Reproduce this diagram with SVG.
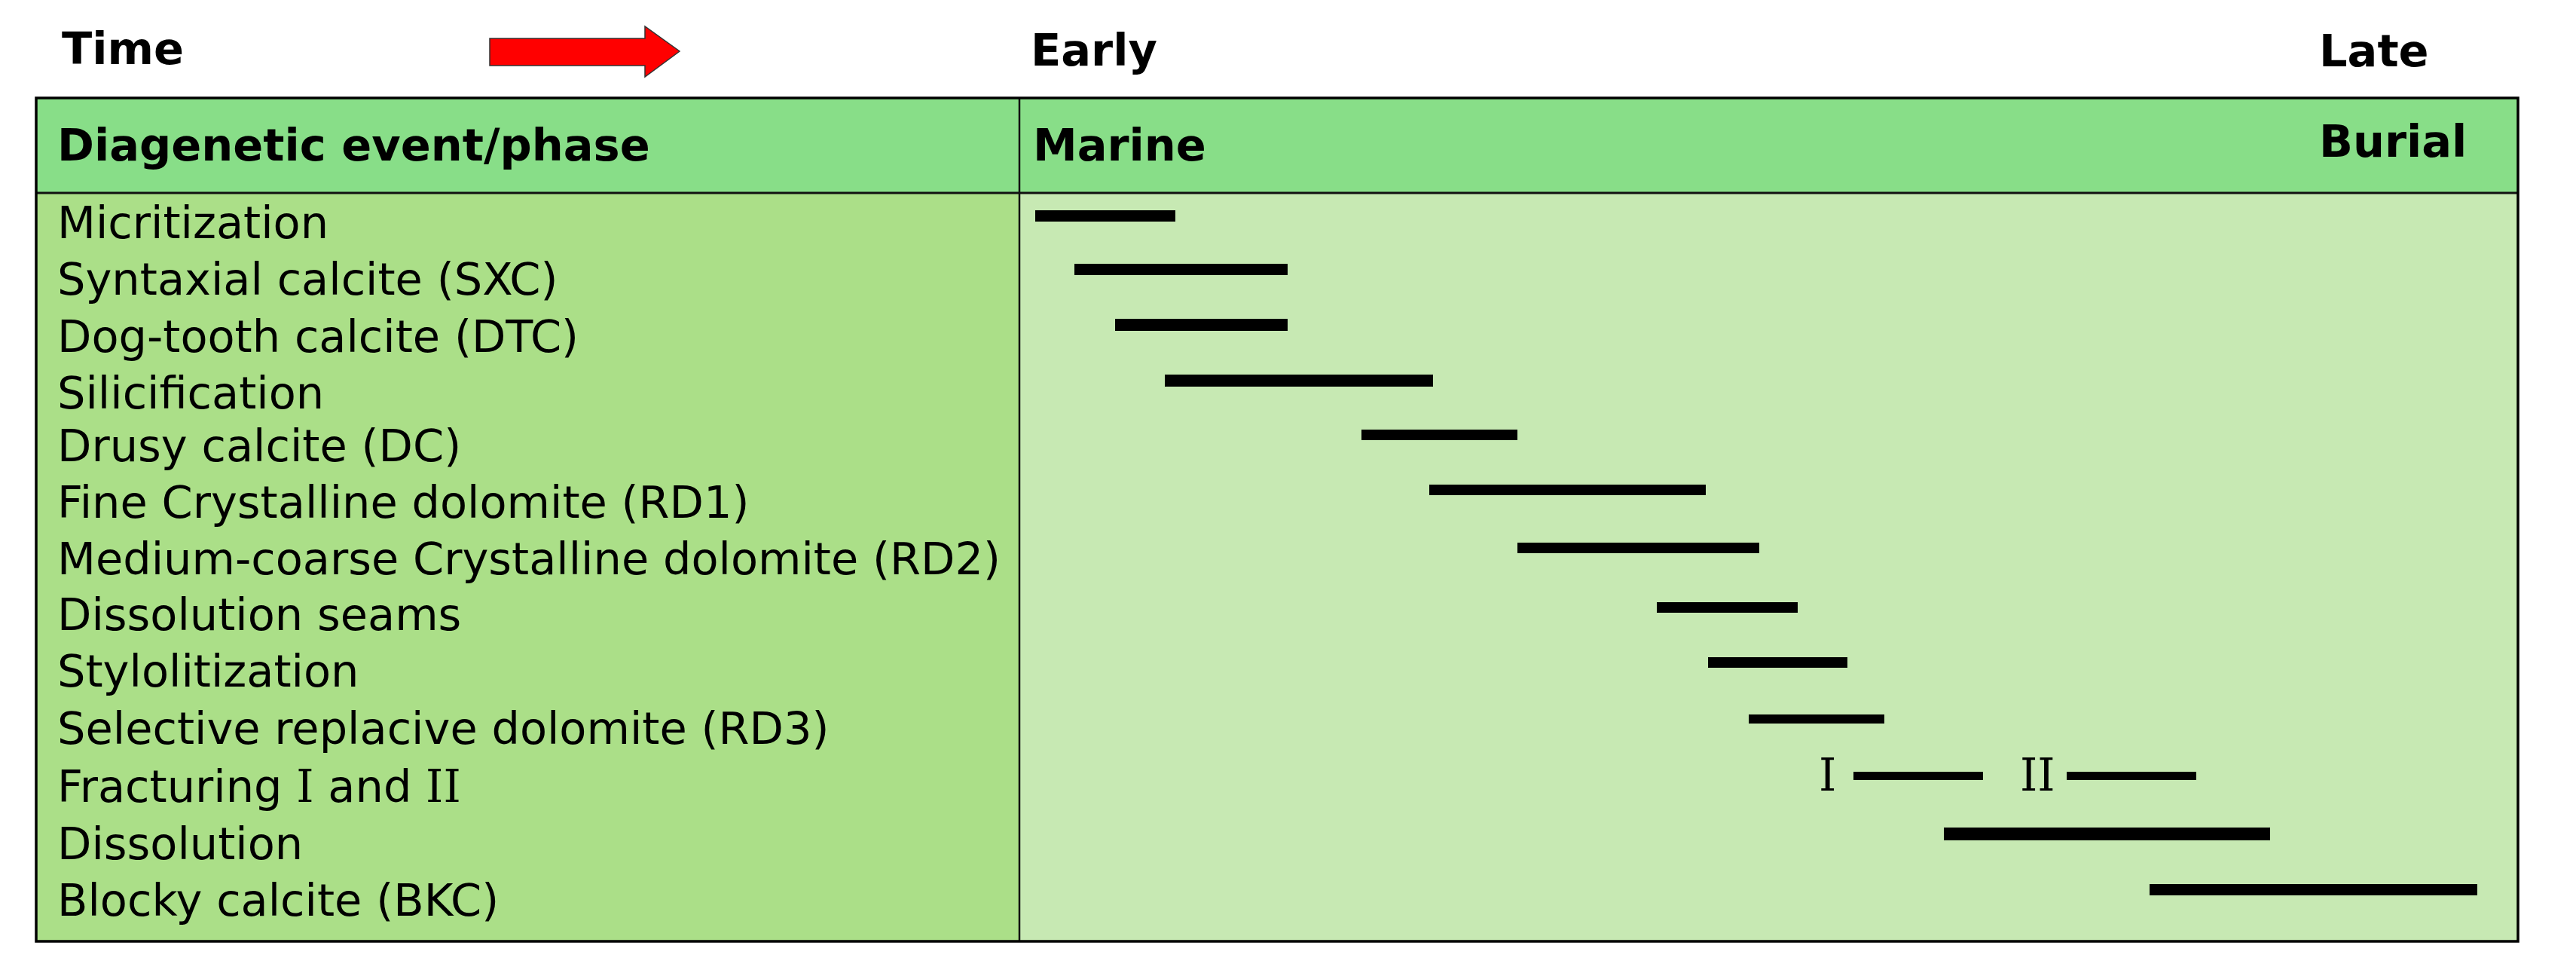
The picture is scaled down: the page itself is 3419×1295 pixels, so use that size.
<svg xmlns="http://www.w3.org/2000/svg" width="3419" height="1295" viewBox="0 0 3419 1295">
<style>
.t{font-family:"DejaVu Sans","Verdana",sans-serif;font-size:59px;fill:#000}
.b{font-weight:bold}
.s{font-family:"DejaVu Serif",serif;font-size:59px;fill:#000}
.bar{fill:#000}
</style>
<rect width="3419" height="1295" fill="#fff"/>
<g id="title">
<text class="t b" x="82" y="85">Time</text>
<path d="M650 51 H856 V35 L902 68 L856 102 V87 H650 Z" fill="#ff0000" stroke="#333" stroke-width="1.5"/>
<text class="t b" x="1368" y="87">Early</text>
<text class="t b" x="3078" y="88">Late</text>
</g>
<g id="table">
<rect x="48" y="130" width="3294" height="126" fill="#88de88"/>
<rect x="48" y="256" width="1305" height="993" fill="#abdf88"/>
<rect x="1353" y="256" width="1989" height="993" fill="#c7e9b3"/>
<line x1="48" y1="256" x2="3342" y2="256" stroke="#111" stroke-width="3"/>
<line x1="1353" y1="130" x2="1353" y2="1249" stroke="#111" stroke-width="2.5"/>
<rect x="48" y="130" width="3294" height="1119" fill="none" stroke="#000" stroke-width="3.5"/>
<text class="t b" x="76" y="213">Diagenetic event/phase</text>
<text class="t b" x="1371" y="213">Marine</text>
<text class="t b" x="3078" y="208">Burial</text>
</g>
<g id="labels">
<text class="t" x="76" y="316">Micritization</text>
<text class="t" x="76" y="391">Syntaxial calcite (SXC)</text>
<text class="t" x="76" y="467">Dog-tooth calcite (DTC)</text>
<text class="t" x="76" y="542">Silicification</text>
<text class="t" x="76" y="612">Drusy calcite (DC)</text>
<text class="t" x="76" y="687">Fine Crystalline dolomite (RD1)</text>
<text class="t" x="76" y="762">Medium-coarse Crystalline dolomite (RD2)</text>
<text class="t" x="76" y="836">Dissolution seams</text>
<text class="t" x="76" y="911">Stylolitization</text>
<text class="t" x="76" y="987">Selective replacive dolomite (RD3)</text>
<text class="t" x="76" y="1064">Fracturing <tspan font-family="DejaVu Serif, serif">I</tspan> and <tspan font-family="DejaVu Serif, serif">II</tspan></text>
<text class="t" x="76" y="1140">Dissolution</text>
<text class="t" x="76" y="1215">Blocky calcite (BKC)</text>
</g>
<g id="bars">
<rect class="bar" x="1374" y="279" width="186" height="15"/>
<rect class="bar" x="1426" y="350" width="283" height="15"/>
<rect class="bar" x="1480" y="423" width="229" height="16"/>
<rect class="bar" x="1546" y="497" width="356" height="16"/>
<rect class="bar" x="1807" y="570" width="207" height="14"/>
<rect class="bar" x="1897" y="643" width="367" height="14"/>
<rect class="bar" x="2014" y="720" width="321" height="14"/>
<rect class="bar" x="2199" y="799" width="187" height="14"/>
<rect class="bar" x="2267" y="872" width="185" height="14"/>
<rect class="bar" x="2321" y="948" width="180" height="12"/>
<text class="s" x="2414" y="1049">I</text>
<rect class="bar" x="2460" y="1024" width="172" height="11"/>
<text class="s" x="2681" y="1049">II</text>
<rect class="bar" x="2743" y="1024" width="172" height="11"/>
<rect class="bar" x="2580" y="1098" width="433" height="17"/>
<rect class="bar" x="2853" y="1173" width="435" height="15"/>
</g>
</svg>
